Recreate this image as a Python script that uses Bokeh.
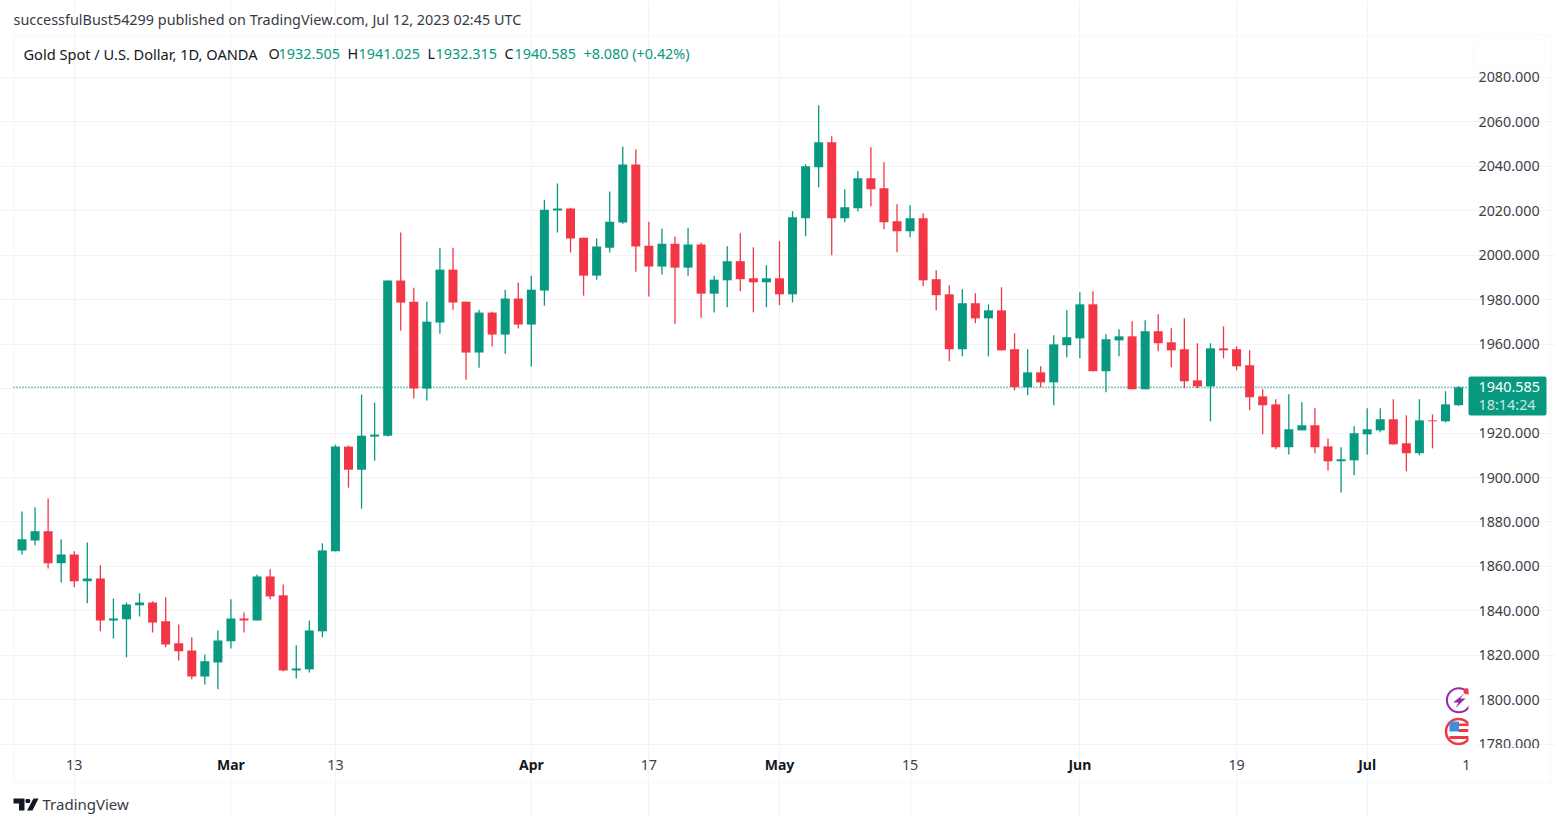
from bokeh.plotting import figure
from bokeh.embed import file_html
from bokeh.resources import INLINE
from bokeh.models import (Range1d, FixedTicker, Label, BoxAnnotation, PolyAnnotation, Grid,
                          NumeralTickFormatter, ColumnDataSource, LinearAxis)

opens = [1867.2,1871.7,1875.8,1861.4,1865.4,1853.3,1854.6,1835.7,1836.2,1842.5,
         1843.8,1835.3,1825.4,1822.2,1810.5,1816.8,1826.3,1836.6,1835.7,1855.5,
         1847.0,1813.2,1813.7,1830.8,1866.8,1913.9,1903.5,1918.4,1918.8,1988.6,
         1979.1,1940.0,1969.7,1993.5,1979.1,1956.2,1974.2,1964.3,1980.5,1968.8,
         1984.1,2020.1,2021.0,2007.9,1990.8,2003.4,2014.7,2040.8,2004.3,1994.9,
         2005.2,1994.4,2004.8,1982.7,1988.7,1997.3,1989.6,1987.8,1989.6,1982.4,
         2016.6,2039.6,2050.8,2016.6,2021.1,2034.6,2030.1,2015.3,2010.8,2016.6,
         1989.2,1982.4,1957.7,1978.4,1971.6,1975.2,1957.7,1940.6,1947.3,1942.8,
         1959.5,1962.6,1977.9,1947.8,1961.7,1963.5,1939.7,1965.8,1960.8,1957.7,
         1943.7,1941.0,1958.1,1957.7,1950.5,1936.5,1932.9,1913.6,1921.2,1923.5,
         1914.0,1907.3,1907.7,1919.4,1921.2,1926.2,1915.4,1910.9,1925.7,1925.3,
         1932.505]
highs = [1884.7,1886.6,1890.6,1872.2,1866.8,1870.8,1860.5,1845.6,1843.8,1847.9,
         1844.3,1846.1,1833.9,1828.1,1820.4,1831.2,1845.2,1839.3,1856.4,1858.7,
         1851.9,1824.5,1835.7,1870.4,1914.8,1914.3,1937.3,1933.7,1988.6,2010.2,
         1985.4,1979.1,2003.4,2003.4,1979.1,1975.5,1974.6,1984.5,1987.7,1990.8,
         2025.0,2032.2,2021.4,2007.9,2007.5,2028.6,2048.9,2047.5,2015.1,2012.0,
         2008.4,2012.4,2005.7,1990.8,2004.0,2009.9,2003.6,1995.5,2006.3,2019.8,
         2040.9,2067.5,2053.5,2029.7,2037.8,2048.6,2041.8,2022.9,2022.5,2018.9,
         1993.2,1986.5,1984.7,1982.9,1977.9,1985.6,1964.9,1957.7,1950.0,1964.0,
         1975.2,1983.3,1983.8,1964.4,1966.7,1970.3,1970.7,1973.4,1967.1,1971.6,
         1960.4,1960.4,1968.0,1959.0,1957.2,1939.7,1935.2,1937.4,1933.8,1931.1,
         1917.6,1913.6,1923.0,1931.1,1931.1,1935.2,1928.0,1935.2,1928.4,1938.8,
         1941.025]
lows = [1865.4,1869.5,1859.1,1852.8,1850.6,1843.4,1830.8,1827.6,1819.1,1837.5,
        1830.3,1823.6,1817.7,1809.2,1806.9,1804.7,1823.1,1830.3,1835.7,1845.2,
        1812.8,1809.6,1812.3,1828.1,1866.8,1895.4,1886.0,1907.6,1918.4,1966.1,
        1935.5,1934.6,1964.7,1975.5,1944.0,1949.4,1958.9,1955.7,1967.0,1949.9,
        1977.3,2010.2,2001.2,1981.8,1989.0,2001.2,2014.2,1992.6,1981.4,1991.3,
        1969.2,1990.8,1971.9,1974.2,1976.6,1983.8,1974.3,1976.6,1977.5,1978.8,
        2008.5,2030.6,2000.0,2014.8,2019.8,2022.0,2011.7,2001.3,2008.1,1986.0,
        1975.2,1952.3,1954.5,1969.4,1954.5,1957.2,1939.2,1937.0,1940.6,1932.5,
        1954.1,1953.6,1947.8,1938.3,1954.5,1939.7,1939.7,1956.8,1949.6,1940.1,
        1940.1,1925.3,1953.6,1948.2,1930.2,1919.4,1912.7,1910.4,1921.2,1910.9,
        1903.2,1893.3,1901.0,1910.4,1920.3,1914.9,1902.8,1910.0,1913.1,1924.8,
        1932.315]
closes = [1872.2,1875.8,1861.4,1865.4,1853.3,1854.6,1835.7,1836.6,1842.9,1843.8,
          1834.8,1824.9,1821.8,1810.5,1817.3,1826.7,1836.6,1835.7,1855.5,1846.5,
          1813.2,1814.1,1831.2,1867.2,1913.9,1903.5,1918.8,1919.3,1988.6,1978.7,
          1940.0,1970.1,1993.5,1978.7,1956.2,1974.2,1964.3,1980.5,1968.8,1984.5,
          2020.5,2021.0,2007.5,1990.8,2003.9,2015.1,2040.8,2003.9,1994.9,2005.2,
          1994.4,2004.8,1982.7,1989.0,1997.3,1989.2,1987.8,1989.6,1982.4,2017.1,
          2040.0,2050.8,2016.6,2021.6,2034.6,2029.7,2014.8,2010.8,2016.6,1988.7,
          1982.0,1957.7,1978.4,1971.6,1975.2,1957.2,1940.7,1947.3,1942.8,1959.9,
          1963.1,1977.9,1947.8,1962.2,1963.5,1939.7,1965.8,1960.4,1957.2,1943.3,
          1941.0,1958.1,1957.2,1950.0,1936.1,1932.5,1913.6,1921.7,1923.5,1913.6,
          1907.3,1908.2,1919.9,1921.7,1926.2,1914.9,1910.9,1925.7,1925.3,1932.9,
          1940.585]
price_ticks = list(range(1780, 2081, 20))
num_ticks = [4, 24, 48, 68, 93, 110.6]
num_labels = ["13", "13", "17", "15", "19", "1"]
month_ticks = [16, 39, 58, 81, 103]
month_labels = ["Mar", "Apr", "May", "Jun", "Jul"]
last_price = 1940.585

GREEN = "#089981"
RED = "#F23645"
GRID = "#f1f3f6"
FONT = "Noto Sans"
W, H = 1555, 818
FRAME_L, FRAME_R, FRAME_T, FRAME_B = 13, 1468, 35, 744
X0, XS = 21.5, 13.06        # pixel of candle 0, pixels per candle
Y0, YS = 699.3, 2.223       # pixel of 1800, pixels per unit

def sx(px):
    return px
def sy(py):
    return H - py
def dx(px):
    return (px - X0) / XS
def dy(py):
    return 1800 + (Y0 - py) / YS

p = figure(width=W, height=H, output_backend="svg", toolbar_location=None,
           x_range=Range1d(dx(0), dx(W)), y_range=Range1d(dy(H), dy(0)),
           min_border=0, x_axis_type=None, y_axis_type=None,
           outline_line_color=None, background_fill_color="white")

xax = LinearAxis(fixed_location=dy(FRAME_B), ticker=FixedTicker(ticks=num_ticks),
                 major_label_overrides=dict(zip(num_ticks, num_labels)), major_label_standoff=9)
yax = LinearAxis(fixed_location=dx(FRAME_R), ticker=FixedTicker(ticks=price_ticks),
                 formatter=NumeralTickFormatter(format="0.000"), major_label_standoff=4)
p.add_layout(xax, "below")
p.add_layout(yax, "right")
for ax in (xax, yax):
    ax.axis_line_color = None
    ax.major_tick_line_color = None
    ax.minor_tick_line_color = None
    ax.major_label_text_font = FONT
    ax.major_label_text_font_size = "14.3px"
    ax.major_label_text_color = "#3c3f48"

p.add_layout(Grid(dimension=0, ticker=FixedTicker(ticks=sorted(num_ticks[:-1] + month_ticks)),
                  bounds=(dy(FRAME_B + 2), dy(FRAME_T)), grid_line_color=GRID))
p.add_layout(Grid(dimension=1, ticker=FixedTicker(ticks=price_ticks),
                  bounds=(dx(FRAME_L), dx(FRAME_R)), grid_line_color=GRID))

idx = list(range(len(opens)))
cols = [GREEN if c >= o else RED for o, c in zip(opens, closes)]
src = ColumnDataSource(dict(x=idx, o=opens, h=highs, l=lows, c=closes, col=cols))

p.line([dx(FRAME_L), dx(FRAME_R)], [last_price, last_price], line_color=GREEN, line_width=1.4, line_dash="1 2")
p.segment("x", "h", "x", "l", source=src, line_color="col", line_width=1.3)
p.vbar("x", width=9 / XS, top="o", bottom="c", source=src, fill_color="col", line_color=None)

# bottom-right icons
p.scatter([dx(1458.4)], [dy(699.7)], marker="circle", size=24, fill_color=None,
          line_color="#9c27b0", line_width=2)
p.scatter([dx(1466)], [dy(690.7)], marker="circle", size=6, fill_color=RED, line_color=None)
bolt = [(1464, 693), (1452.5, 702), (1458, 702), (1455, 707.5), (1465, 698), (1459.5, 698)]
p.patch([dx(a) for a, _ in bolt], [dy(b) for _, b in bolt], fill_color="#9c27b0", line_color=None)
p.scatter([dx(1458)], [dy(731)], marker="circle", size=25, fill_color="white",
          line_color=RED, line_width=2.5)
for top, bot, left in ((723, 725.5, 1458), (728.5, 731.5, 1458), (735.5, 738.5, 1449)):
    p.quad(left=[dx(left)], right=[dx(1468)], top=[dy(top)], bottom=[dy(bot)],
           fill_color=RED, line_color=None)
p.quad(left=[dx(1449)], right=[dx(1458.5)], top=[dy(721)], bottom=[dy(731)],
       fill_color="#3d8fe0", line_color=None)

def box(l, r, t, b, fill="white", line=None, width=1, radius=0):
    bx = BoxAnnotation(left=sx(l), right=sx(r), top=sy(t), bottom=sy(b),
                       left_units="screen", right_units="screen", top_units="screen", bottom_units="screen",
                       fill_color=fill, fill_alpha=1 if fill else 0, line_color=line, line_width=width,
                       border_radius=radius, level="overlay")
    p.add_layout(bx)

def poly(points, color="#131722"):
    p.add_layout(PolyAnnotation(xs=[sx(a) for a, _ in points], ys=[sy(b) for _, b in points],
                                xs_units="screen", ys_units="screen", fill_color=color, fill_alpha=1,
                                line_color=None, level="overlay"))

def text(px, py, s, color="#131722", size="14.4px", style="normal", align="left"):
    p.add_layout(Label(x=sx(px), y=sy(py), x_units="screen", y_units="screen", text=s,
                       text_color=color, text_font=FONT, text_font_size=size, text_font_style=style,
                       text_align=align, text_baseline="middle", level="overlay"))

# clip the icons at the scale edge and cut the lowest price label
box(1468, 1476, 680, 746)
box(1440, 1476, 745, 750)
box(1476, 1549, 747.5, 757)
# frame around the chart
box(13, 1550, 35, 782, fill=None, line="#eceff6", width=2)
# empty button at top right
box(1473, 1545, 38.5, 70, fill="white", line="#eef0f5", width=1, radius=6)
# price tag
box(1468, 1546, 376, 415, fill=GREEN, radius=2)
text(1478, 386.3, "1940.585", color="white")
text(1478, 404.3, "18:14:24", color="#c9e8e2")

# month labels
for t, s in zip(month_ticks, month_labels):
    p.add_layout(Label(x=t, y=sy(763.5), x_units="data", y_units="screen", text=s, text_align="center",
                       text_baseline="middle", text_font=FONT, text_font_size="14px",
                       text_font_style="bold", text_color="#131722", level="overlay"))

# header
text(13, 18.5, "successfulBust54299 published on TradingView.com, Jul 12, 2023 02:45 UTC", color="#363a45")
text(23, 53, "Gold Spot / U.S. Dollar, 1D, OANDA", color="#131722", size="14.6px")
for px, lab, val, vx in ((268, "O", "1932.505", 278), (347, "H", "1941.025", 358),
                         (427, "L", "1932.315", 435), (504, "C", "1940.585", 514)):
    text(px, 53, lab)
    text(vx, 53, val, color=GREEN)
text(583, 53, "+8.080 (+0.42%)", color=GREEN)

# footer
poly([(13, 798), (24, 798), (24, 810), (18.5, 810), (18.5, 803), (13, 803)])
poly([(33, 798), (38, 798), (32, 810), (26.5, 810)])
poly([(25.5, 798.5), (29, 798.5), (30, 800.5), (29, 802.5), (25.5, 802.5), (24.8, 800.5)])
text(42, 803, "TradingView", color="#363a45", size="15px")

open("out.html", "w").write(file_html(p, INLINE))
